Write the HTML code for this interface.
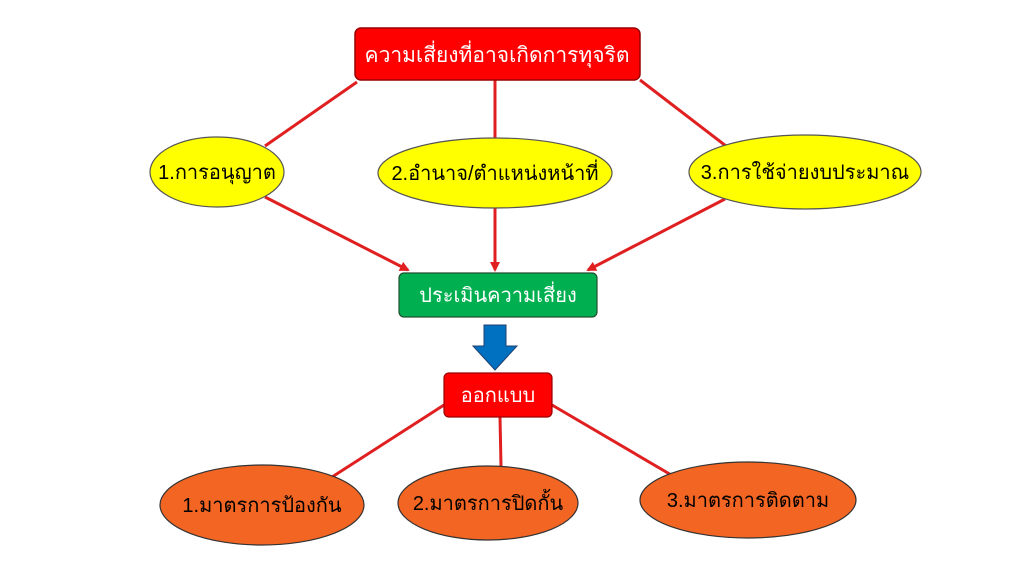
<!DOCTYPE html>
<html><head><meta charset="utf-8"><style>
html,body{margin:0;padding:0;background:#fff;width:1024px;height:575px;overflow:hidden}
svg text{font-family:"Liberation Sans","DejaVu Sans",sans-serif}
</style></head><body>
<svg width="1024" height="575" viewBox="0 0 1024 575" xmlns="http://www.w3.org/2000/svg">
<defs>
<marker id="ah" markerWidth="10" markerHeight="10" refX="8" refY="5" orient="auto" markerUnits="userSpaceOnUse">
<path d="M0,0 L10,5 L0,10 z" fill="#e02020"/></marker>
</defs>
<g stroke="#e02020" stroke-width="3" fill="none">
<line x1="357" y1="82" x2="265" y2="146"/>
<line x1="495" y1="80" x2="495" y2="138"/>
<line x1="640" y1="80" x2="726" y2="146"/>
<line x1="265" y1="197" x2="408" y2="270" marker-end="url(#ah)"/>
<line x1="495" y1="208" x2="495" y2="270" marker-end="url(#ah)"/>
<line x1="725" y1="199" x2="588" y2="270" marker-end="url(#ah)"/>
<line x1="444" y1="405" x2="332" y2="477"/>
<line x1="500" y1="417" x2="501" y2="466"/>
<line x1="552" y1="405" x2="673" y2="476"/>
</g>
<rect x="355" y="28" width="285" height="52" rx="6" fill="#ff0000" stroke="#9a0000" stroke-width="1.5"/>
<text x="497" y="62" text-anchor="middle" fill="#fff" font-size="21">ความเสี่ยงที่อาจเกิดการทุจริต</text>
<g stroke="#555" stroke-width="1.2" fill="#ffff00">
<ellipse cx="217" cy="172" rx="67" ry="35"/>
<ellipse cx="495" cy="173" rx="117" ry="35"/>
<ellipse cx="805" cy="172" rx="116" ry="37"/>
</g>
<g font-size="20" fill="#000" text-anchor="middle">
<text x="217" y="179">1.การอนุญาต</text>
<text x="495" y="180">2.อำนาจ/ตำแหน่งหน้าที่</text>
<text x="805" y="179">3.การใช้จ่ายงบประมาณ</text>
</g>
<rect x="399" y="273" width="198" height="44" rx="5" fill="#00b050" stroke="#205030" stroke-width="1.2"/>
<text x="498" y="302" text-anchor="middle" fill="#fff" font-size="20">ประเมินความเสี่ยง</text>
<path d="M484,325 H506 V346 H517 L495,370 L473,346 H484 Z" fill="#0070c0" stroke="#1f3f6f" stroke-width="1"/>
<rect x="444" y="373" width="108" height="44" rx="5" fill="#ff0000" stroke="#9a0000" stroke-width="1.2"/>
<text x="498" y="402" text-anchor="middle" fill="#fff" font-size="20">ออกแบบ</text>
<g stroke="#333" stroke-width="1.2" fill="#f26522">
<ellipse cx="262" cy="505" rx="102" ry="40"/>
<ellipse cx="488" cy="503" rx="90" ry="37"/>
<ellipse cx="748" cy="500" rx="108" ry="38"/>
</g>
<g font-size="20" fill="#000" text-anchor="middle">
<text x="262" y="512">1.มาตรการป้องกัน</text>
<text x="488" y="510">2.มาตรการปิดกั้น</text>
<text x="748" y="507">3.มาตรการติดตาม</text>
</g>
</svg>
</body></html>
